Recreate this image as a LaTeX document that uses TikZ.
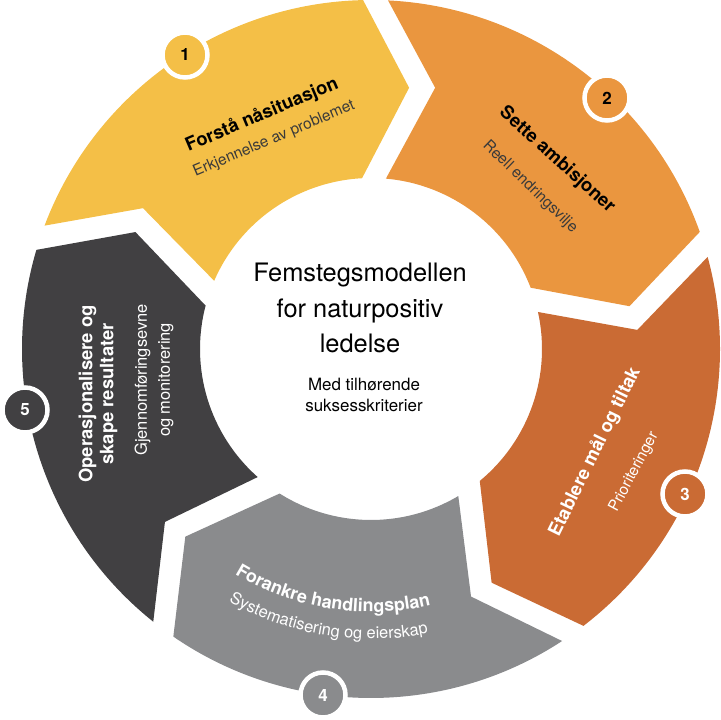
\documentclass[tikz,border=0pt]{standalone}
\usepackage{fontspec}
\setmainfont{TeX Gyre Heros}
\usetikzlibrary{decorations.text}
\definecolor{cyel}{HTML}{F4BF47}
\definecolor{cora}{HTML}{EA963F}
\definecolor{cbro}{HTML}{CA6B34}
\definecolor{cgra}{HTML}{8A8B8D}
\definecolor{cdar}{HTML}{414042}
\definecolor{csub}{HTML}{3A3A3A}
\tikzset{
  badge/.style={circle, draw=white, line width=4.5bp, minimum size=45bp, inner sep=0pt, font=\fontsize{17}{17}\selectfont\bfseries},
  ttl/.style={font=\fontsize{18.5}{21}\selectfont\bfseries, inner sep=0pt, align=center},
  sub/.style={font=\fontsize{15.5}{22}\selectfont, inner sep=0pt, align=center},
}
\newcommand{\seg}[9]{% color, notch outer, tip outer, tip ang, tip r, tip inner, notch inner, notch ang, notch r
  \fill[#1] ([shift={(C)}]#2:349) arc[start angle=#2, end angle=#3, radius=349]
    -- ([shift={(C)}]#4:#5) -- ([shift={(C)}]#6:171)
    arc[start angle=#6, end angle=#7, radius=171]
    -- ([shift={(C)}]#8:#9) -- cycle;}
\begin{document}
\begin{tikzpicture}[x=1bp,y=1bp]
\useasboundingbox (0,0) rectangle (720,720);
\coordinate (C) at (371,371);
\seg{cyel}{159.3}{91.3}{81.7}{264}{93}{156.5}{148.3}{268}
\seg{cora}{87.2}{19.6}{9.4}{262}{21}{85}{76.2}{269}
\seg{cbro}{15.3}{-52.5}{-62.7}{263}{-50.5}{12.5}{4.1}{267}
\seg{cgra}{-56.8}{-124.5}{-134.7}{264}{-122.3}{-59.3}{-68}{267}
\seg{cdar}{-128.6}{-196.5}{-206.4}{263}{-194.7}{-131.5}{-140}{269}
% texts
\node[ttl, rotate=23] (t1) at (262,605) {Forstå nåsituasjon};
\node[sub, rotate=23, text=csub] (s1) at (274,581) {Erkjennelse av problemet};
\node[ttl, rotate=-42] (t2) at (557,560) {Sette ambisjoner};
\node[sub, rotate=-44, text=csub] (s2) at (530,533) {Reell endringsvilje};
\node[ttl, rotate=64, text=white] (t3) at (595,268) {Etablere mål og tiltak};
\node[sub, rotate=62, text=white] (s3) at (634,248) {Prioriteringer};
\node[ttl, rotate=90, text=white, font=\fontsize{18.5}{21}\selectfont\bfseries] (t5) at (98,326) {Operasjonalisere og\\skape resultater};
\node[sub, rotate=90, text=white, font=\fontsize{16.5}{23}\selectfont] (s5) at (154,340) {Gjennomføringsevne\\og monitorering};
\path[decorate, decoration={text along path, text align=center, text color=white,
  text={|\fontsize{18}{18}\selectfont\bfseries|Forankre handlingsplan}}]
  ([shift={(C)}]-126:263) arc[start angle=-126, end angle=-72, radius=263];
\path[decorate, decoration={text along path, text align=center, text color=white,
  text={|\fontsize{16.5}{16.5}\selectfont|Systematisering og eierskap}}]
  ([shift={(C)}]-123:290) arc[start angle=-123, end angle=-75, radius=290];
% center
\node[font=\fontsize{25.5}{36}\selectfont, align=center] (ct) at (360,412) {Femstegsmodellen\\for naturpositiv\\ledelse};
\node[font=\fontsize{17}{21}\selectfont, align=center] (cs) at (364,325) {Med tilhørende\\suksesskriterier};
% badges
\node[badge, fill=cyel, text=black] (b1) at (185,665) {1};
\node[badge, fill=cora, text=black] (b2) at (607,622) {2};
\node[badge, fill=cbro, text=white] (b3) at (685,226) {3};
\node[badge, fill=cgra, text=white] (b4) at (323,25) {4};
\node[badge, fill=cdar, text=white] (b5) at (25,310) {5};
\end{tikzpicture}
\end{document}
